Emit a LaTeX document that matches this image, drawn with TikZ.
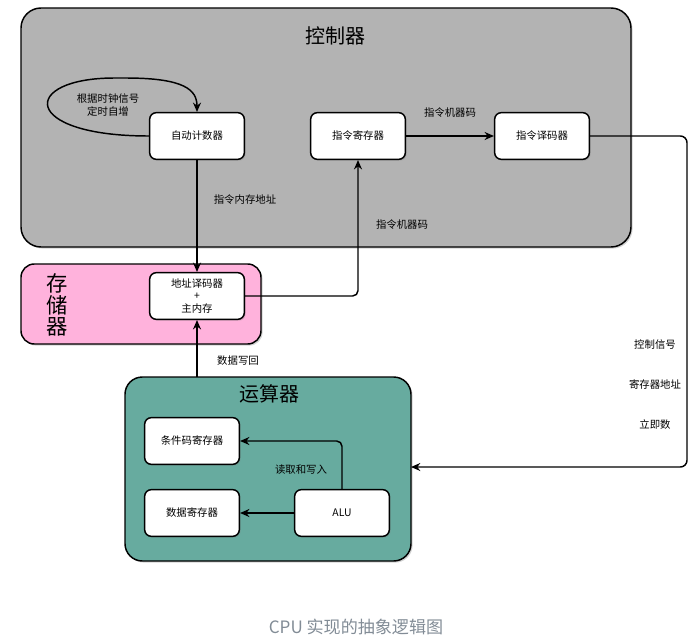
\documentclass[tikz,border=0pt]{standalone}
\usepackage{fontspec}
\setmainfont{Noto Sans CJK SC}
\usetikzlibrary{arrows.meta,shadows}
\begin{document}
\begin{tikzpicture}[x=0.75pt,y=-0.75pt,
  font=\fontsize{7.8pt}{9.6pt}\selectfont,
  outer/.style={draw=black,line width=1.1pt,drop shadow={shadow xshift=1.2pt,shadow yshift=-1.2pt,opacity=0.35}},
  unit/.style={draw=black,line width=1.1pt,fill=white,rounded corners=5pt,minimum width=71pt,minimum height=35pt,align=center,inner sep=1pt,drop shadow={shadow xshift=1pt,shadow yshift=-1pt,opacity=0.3}},
  conn/.style={line width=1.1pt,-{Stealth[length=7pt,width=6pt]},rounded corners=4pt},
  lbl/.style={inner sep=1pt,align=center},
  big/.style={font=\fontsize{15pt}{17pt}\selectfont}]
\useasboundingbox (0,0) rectangle (700,642);
% containers
\path[outer,fill={rgb,255:red,179;green,179;blue,179},rounded corners=15pt] (21,8) rectangle (631,247);
\path[outer,fill={rgb,255:red,255;green,178;blue,220},rounded corners=10pt] (21,264) rectangle (261,344);
\path[outer,fill={rgb,255:red,103;green,171;blue,159},rounded corners=13pt] (125,377) rectangle (411,561);
\coordinate (ctrlR) at (631,136);
\coordinate (aluboxR) at (411,467);
\coordinate (aluboxT) at (197,377);
\node[big] (tctrl) at (335,36) {控制器};
\node[align=center,font=\fontsize{16pt}{16pt}\selectfont] (tmem) at (57,305) {存\\储\\器};
\node[big] (talu) at (269,394) {运算器};
% units
\node[unit] (pc) at (197,136) {自动计数器};
\node[unit] (ir) at (358,136) {指令寄存器};
\node[unit] (dec) at (542,136) {指令译码器};
\node[unit] (mem) at (197,296) {地址译码器\\+\\主内存};
\node[unit] (cc) at (192,441) {条件码寄存器};
\node[unit] (dr) at (192,513) {数据寄存器};
\node[unit] (alu) at (342,513) {ALU};
% connectors
\draw[conn] (pc.west) .. controls (20,136) and (20,78) .. (120,78) .. controls (185,78) and (197,90) .. (pc.north);
\node[lbl] (lloop) at (108,105) {根据时钟信号\\定时自增};
\draw[conn] (ir.east) -- (dec.west);
\node[lbl] (l1) at (450,113) {指令机器码};
\draw[conn] (pc.south) -- (mem.north);
\node[lbl] (l2) at (245,200) {指令内存地址};
\draw[conn] (mem.east) -| (ir.south);
\node[lbl] (l3) at (402,225) {指令机器码};
\draw[conn] (aluboxT) -- (mem.south);
\node[lbl] (l4) at (238,361) {数据写回};
\draw[conn,rounded corners=5pt] (dec.east) -- (687,136) -- (687,467) -- (aluboxR);
\node[lbl] (l5) at (655,345) {控制信号};
\node[lbl] (l6) at (655,385) {寄存器地址};
\node[lbl] (l7) at (655,425) {立即数};
\draw[conn] (alu.north) |- (cc.east);
\node[lbl] (l8) at (301,470) {读取和写入};
\draw[conn] (alu.west) -- (dr.east);
\node[font=\fontsize{12.8pt}{15pt}\selectfont,text={rgb,255:red,130;green,140;blue,150}] (cap) at (356,627) {CPU 实现的抽象逻辑图};
\end{tikzpicture}
\end{document}
